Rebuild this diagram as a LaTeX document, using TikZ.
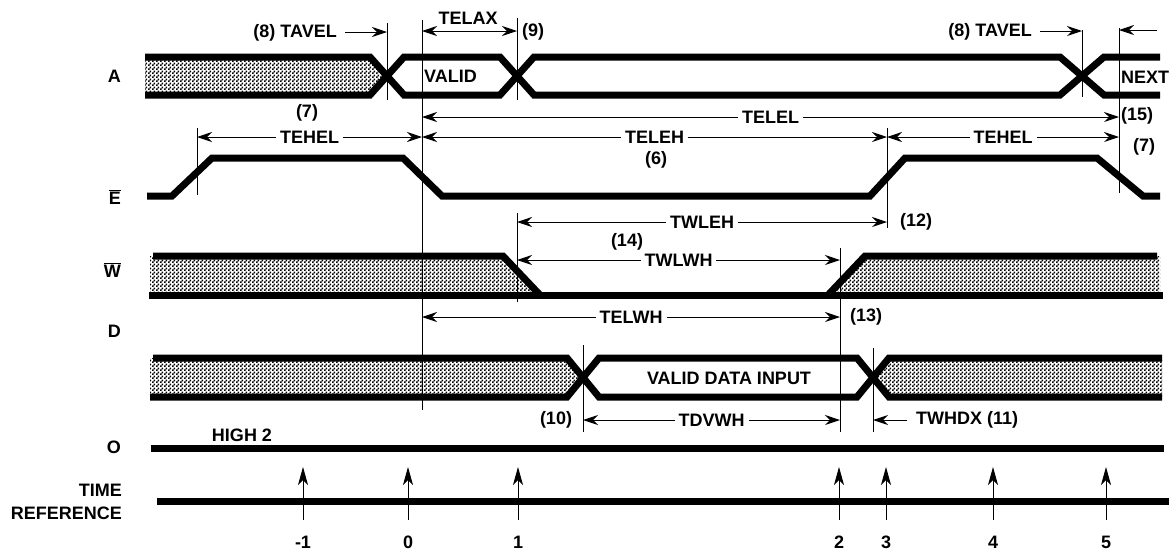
\documentclass[tikz,border=0pt]{standalone}
\usepackage{fontspec}
\setmainfont{Liberation Sans}
\usetikzlibrary{arrows.meta,patterns}
\pgfdeclarepatternformonly{stipple}{\pgfpointorigin}{\pgfpoint{4pt}{4pt}}{\pgfpoint{4pt}{4pt}}{
  \pgfpathrectangle{\pgfpoint{0pt}{0pt}}{\pgfpoint{2pt}{2pt}}
  \pgfpathrectangle{\pgfpoint{2pt}{2pt}}{\pgfpoint{2pt}{2pt}}
  \pgfusepath{fill}}
\tikzset{sig/.style = {line width=7pt},
         hatch/.style = {pattern=stipple, draw=none},
         refline/.style = {line width=0.9pt},
         dimline/.style = {line width=0.9pt, {Stealth[length=15pt,width=10pt,inset=5pt]}-{Stealth[length=15pt,width=10pt,inset=5pt]}},
         oneway/.style = {line width=0.9pt, -{Stealth[length=15pt,width=10pt,inset=5pt]}},
         tarrow/.style = {line width=0.9pt, -{Stealth[length=18pt,width=10pt,inset=5pt]}},
         lbl/.style = {font=\fontsize{18}{20}\selectfont\bfseries, inner sep=1pt},
         gap/.style = {lbl, fill=white, inner xsep=4pt}}

\begin{document}
\begin{tikzpicture}[x=1pt, y=-1pt]
        \useasboundingbox (0,0) rectangle (1172,550);

        % reference lines
        \coordinate (eh) at (197,0);
        \coordinate (avA) at (387,0);
        \coordinate (c0) at (422,0);
        \coordinate (c1) at (517,0);
        \coordinate (dv) at (583,0);
        \coordinate (c2) at (840,0);
        \coordinate (c3) at (873,0);
        \coordinate (we) at (887,0);
        \coordinate (avB) at (1082,0);
        \coordinate (c5) at (1119,0);

        % signal names
        \node[lbl, anchor=east] (nA) at (122,76) {A};
        \node[lbl, anchor=east] (nE) at (122,197) {$\overline{\hbox{E}}$};
        \node[lbl, anchor=east] (nW) at (122,270) {$\overline{\hbox{W}}$};
        \node[lbl, anchor=east] (nD) at (122,331) {D};
        \node[lbl, anchor=east] (nO) at (122,447) {O};
        \node[lbl, anchor=east] (nTime) at (123,490) {TIME};
        \node[lbl, anchor=east] (nRef) at (123,513) {REFERENCE};

        % hatched areas
        \fill[hatch] (145,57) -- (370,57) -- (387,76) -- (370,95) -- (145,95) -- cycle;
        \fill[hatch] (150,256) -- (503,256) -- (540,295) -- (150,295) -- cycle;
        \fill[hatch] (828,295) -- (865,256) -- (1160,256) -- (1160,295) -- cycle;
        \fill[hatch] (150,358) -- (567,358) -- (583,377.5) -- (567,397) -- (150,397) -- cycle;
        \fill[hatch] (889,358) -- (873,377.5) -- (889,397) -- (1162,397) -- (1162,358) -- cycle;

        % A
        \draw[sig] (145,57) -- (370,57) -- (404,95) -- (500,95) -- (534,57) -- (1060,57) -- (1104,95) -- (1160,95);
        \draw[sig] (145,95) -- (370,95) -- (404,57) -- (500,57) -- (534,95) -- (1060,95) -- (1104,57) -- (1160,57);
        % E
        \draw[sig] (147,196) -- (172,196) -- (212,158) -- (403,158) -- (442,196) -- (870,196) -- (905,158) -- (1097,158) -- (1143,196) -- (1160,196);
        % W
        \draw[sig] (153,256) -- (503,256) -- (540,295);
        \draw[sig] (149,295) -- (1163,295);
        \draw[sig] (828,295) -- (865,256) -- (1157,256);
        % D
        \draw[sig] (153,358) -- (567,358) -- (599,397) -- (857,397) -- (889,358) -- (1162,358);
        \draw[sig] (150,397) -- (567,397) -- (599,358) -- (857,358) -- (889,397) -- (1162,397);
        % O and time reference
        \draw[sig] (151,448) -- (1164,448);
        \draw[sig] (157,501) -- (1169,501);

        % vertical reference lines
        \draw[refline] (eh |- 0,128) -- (eh |- 0,195);
        \draw[refline] (avA |- 0,23) -- (avA |- 0,100);
        \draw[refline] (c0 |- 0,20) -- (c0 |- 0,410);
        \draw[refline] (c1 |- 0,18) -- (c1 |- 0,100);
        \draw[refline] (c1 |- 0,213) -- (c1 |- 0,302);
        \draw[refline] (dv |- 0,345) -- (dv |- 0,432);
        \draw[refline] (c2 |- 0,248) -- (c2 |- 0,432);
        \draw[refline] (c3 |- 0,348) -- (c3 |- 0,432);
        \draw[refline] (we |- 0,128) -- (we |- 0,228);
        \draw[refline] (avB |- 0,30) -- (avB |- 0,97);
        \draw[refline] (c5 |- 0,28) -- (c5 |- 0,193);

        % timing parameters
        \node[lbl, anchor=east] (tavelA) at (338,33) {(8) TAVEL};
        \coordinate (tavA0) at (345,32);
        \draw[oneway] (tavA0) -- (avA |- tavA0);
        \draw[dimline] (c0 |- 0,31) -- (c1 |- 0,31);
        \node[lbl] (telax) at (468,18) {TELAX};
        \node[lbl, anchor=west] (n9) at (521,32) {(9)};
        \node[lbl] (n7a) at (307,113) {(7)};
        \node[lbl, anchor=east] (tavelB) at (1033,32) {(8) TAVEL};
        \coordinate (tavB0) at (1040,31);
        \draw[oneway] (tavB0) -- (avB |- tavB0);
        \coordinate (nx0) at (1157,30);
        \draw[oneway] (nx0) -- (c5 |- nx0);
        \node[lbl, anchor=west] (next) at (1120,77) {NEXT};

        \draw[dimline] (c0 |- 0,117) -- node[gap] (telel) {TELEL} (c5 |- 0,117);
        \node[lbl] (n15) at (1137,116) {(15)};
        \draw[dimline] (eh |- 0,137) -- node[gap] (tehelA) {TEHEL} (c0 |- 0,137);
        \draw[dimline] (c0 |- 0,137) -- node[gap] (teleh) {TELEH} (we |- 0,137);
        \draw[dimline] (we |- 0,137) -- node[gap] (tehelB) {TEHEL} (c5 |- 0,137);
        \node[lbl] (n7b) at (1144,147) {(7)};
        \node[lbl] (n6) at (656,160) {(6)};

        \draw[dimline] (c1 |- 0,222) -- node[gap] (twleh) {TWLEH} (we |- 0,222);
        \node[lbl] (n12) at (916,222) {(12)};
        \node[lbl] (n14) at (627,242) {(14)};
        \draw[dimline] (c1 |- 0,260) -- node[gap] (twlwh) {TWLWH} (c2 |- 0,260);
        \draw[dimline] (c0 |- 0,317) -- node[gap] (telwh) {TELWH} (c2 |- 0,317);
        \node[lbl] (n13) at (866,317) {(13)};

        \node[lbl] (vdata) at (729,378) {VALID DATA INPUT};
        \node[lbl, anchor=west] (valid) at (423,76) {VALID};
        \draw[dimline] (dv |- 0,420) -- node[gap] (tdvwh) {TDVWH} (c2 |- 0,420);
        \node[lbl] (n10) at (556,420) {(10)};
        \coordinate (wh0) at (907,420);
        \draw[oneway] (wh0) -- (c3 |- wh0);
        \node[lbl, anchor=west] (twhdx) at (915,420) {TWHDX (11)};
        \node[lbl] (high) at (242,435) {HIGH 2};

        % time reference marks
        \foreach \x/\t in {303/-1, 408/0, 518/1, 839/2, 886/3, 993/4, 1106/5}{
          \draw[tarrow] (\x,520) -- (\x,467);
          \node[lbl] (tick\x) at (\x,542) {\t};
        }
\end{tikzpicture}
\end{document}
